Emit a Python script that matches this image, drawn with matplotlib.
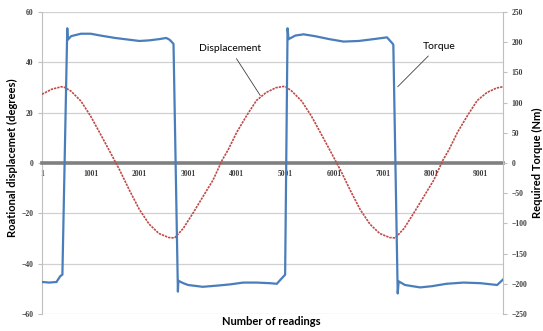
import matplotlib
matplotlib.use("Agg")
from matplotlib import pyplot as plt

# Rotational displacement (degrees) sampled along the run
disp_reading = [1, 200, 400, 470, 600, 800, 1000, 1200, 1400, 1600, 1800, 2000, 2200,
                2400, 2600, 2720, 2900, 3100, 3300, 3510, 3700, 3820, 4000, 4200, 4400,
                4600, 4800, 4950, 5010, 5130, 5330, 5530, 5730, 5930, 6130, 6330, 6530,
                6730, 6930, 7130, 7250, 7430, 7630, 7830, 8040, 8230, 8350, 8530, 8730,
                8930, 9130, 9330, 9460]
displacement = [27.3, 29.3, 30.3, 30.0, 28.5, 24.6, 18.6, 11.5, 4.3, -3.0, -11.0, -18.5, -24.3,
                -28.0, -29.6, -29.8, -26.0, -19.9, -13.5, -6.8, 1.2, 5.2, 12.3, 18.8, 24.8,
                28.0, 29.9, 30.4, 30.2, 28.5, 24.6, 18.6, 11.5, 4.3, -3.0, -11.0, -18.5,
                -24.3, -28.0, -29.6, -29.8, -26.0, -19.9, -13.5, -6.8, 1.2, 5.2, 12.3, 18.8,
                24.8, 28.0, 29.8, 30.3]

# Required torque (Nm)
torque_reading = [1, 150, 300, 330, 380, 420, 520, 530, 600, 800, 1000, 1200, 1500, 1800,
                  2000, 2200, 2400, 2550, 2620, 2680, 2700, 2790, 2800, 2900, 3000, 3300,
                  3600, 3860, 4130, 4400, 4680, 4820, 4920, 4990, 5040, 5060, 5200, 5370,
                  5600, 5900, 6190, 6500, 6800, 7080, 7180, 7210, 7300, 7320, 7450, 7760,
                  8000, 8300, 8650, 9000, 9340, 9460]
torque = [-197, -198, -197, -193, -187, -185, 223, 204, 210, 214, 214, 211, 207, 204,
          202, 203, 205, 207, 204, 199, 197, -213, -195, -199, -202, -205,
          -203, -201, -198, -198, -199, -200, -191, -185, 223, 205, 211, 213,
          210, 205, 201, 202, 205, 208, 199, 196, -216, -196, -202, -206,
          -204, -200, -198, -199, -202, -193]

x_ticks = [1, 1001, 2001, 3001, 4001, 5001, 6001, 7001, 8001, 9001]
n_readings = 9460

tick_font = {"family": "Liberation Serif", "size": 5.5, "weight": "bold"}

fig = plt.figure(figsize=(5.43, 3.31), dpi=100)
ax = fig.add_axes([0.0773, 0.0514, 0.849, 0.9124])
ax2 = ax.twinx()

ax.plot(disp_reading, displacement, color="#BE4B48", lw=1.2,
        linestyle=(0, (1.4, 0.6)), zorder=3)
ax2.plot(torque_reading, torque, color="#4A7EBB", lw=1.6, zorder=3)

ax.set_xlim(1, n_readings)
ax.set_ylim(-60, 60)
ax2.set_ylim(-250, 250)

ax.set_yticks(range(-60, 61, 20))
ax2.set_yticks(range(-250, 251, 50))
ax.set_xticks(x_ticks)
ax.set_xticklabels([str(t) for t in x_ticks])

ax.yaxis.grid(True, color="#D0D0D0", lw=0.9)
ax.set_axisbelow(True)

# category axis sits on the zero line
ax.spines["bottom"].set_position(("data", 0))
ax.spines["bottom"].set_color("#808080")
ax.spines["bottom"].set_linewidth(2.6)
ax.spines["top"].set_visible(False)
ax.spines["right"].set_visible(False)
ax.spines["left"].set_color("#BFBFBF")
for side in ["top", "bottom", "left"]:
    ax2.spines[side].set_visible(False)
ax2.spines["right"].set_color("#BFBFBF")

ax.tick_params(axis="x", length=0, pad=5)
ax.tick_params(axis="y", length=3, color="#BFBFBF", pad=3)
ax2.tick_params(axis="y", length=3, color="#BFBFBF", pad=3)
for lab in ax.get_xticklabels() + ax.get_yticklabels() + ax2.get_yticklabels():
    lab.set_fontproperties(tick_font)
    lab.set_color("#404040")

label_font = {"family": "Lato", "size": 8, "weight": "bold"}
fig.text(12 / 543, 0.523, "Roational displacemet (degrees)", rotation=90,
         ha="center", va="center", fontdict=label_font)
fig.text(537 / 543, 0.509, "Required Torque (Nm)", rotation=90,
         ha="center", va="center", fontdict=label_font)
fig.text(271.7 / 543, 1 - 321.7 / 331, "Number of readings",
         ha="center", va="center", fontdict=label_font)

arrow = dict(arrowstyle="-", color="#404040", lw=0.6, shrinkA=2, shrinkB=0)
ax.annotate("Displacement", xy=(4480, 26.8), xytext=(3860, 45.3),
            ha="center", va="center", fontsize=7.5, family="Lato",
            arrowprops=dict(arrow, relpos=(0.55, 0.0)), zorder=5)
ax.annotate("Torque", xy=(7300, 30.3), xytext=(8160, 46.2),
            ha="center", va="center", fontsize=7.5, family="Lato",
            arrowprops=dict(arrow, relpos=(0.3, 0.0)), zorder=5)

fig.savefig("out.png", dpi=100)
